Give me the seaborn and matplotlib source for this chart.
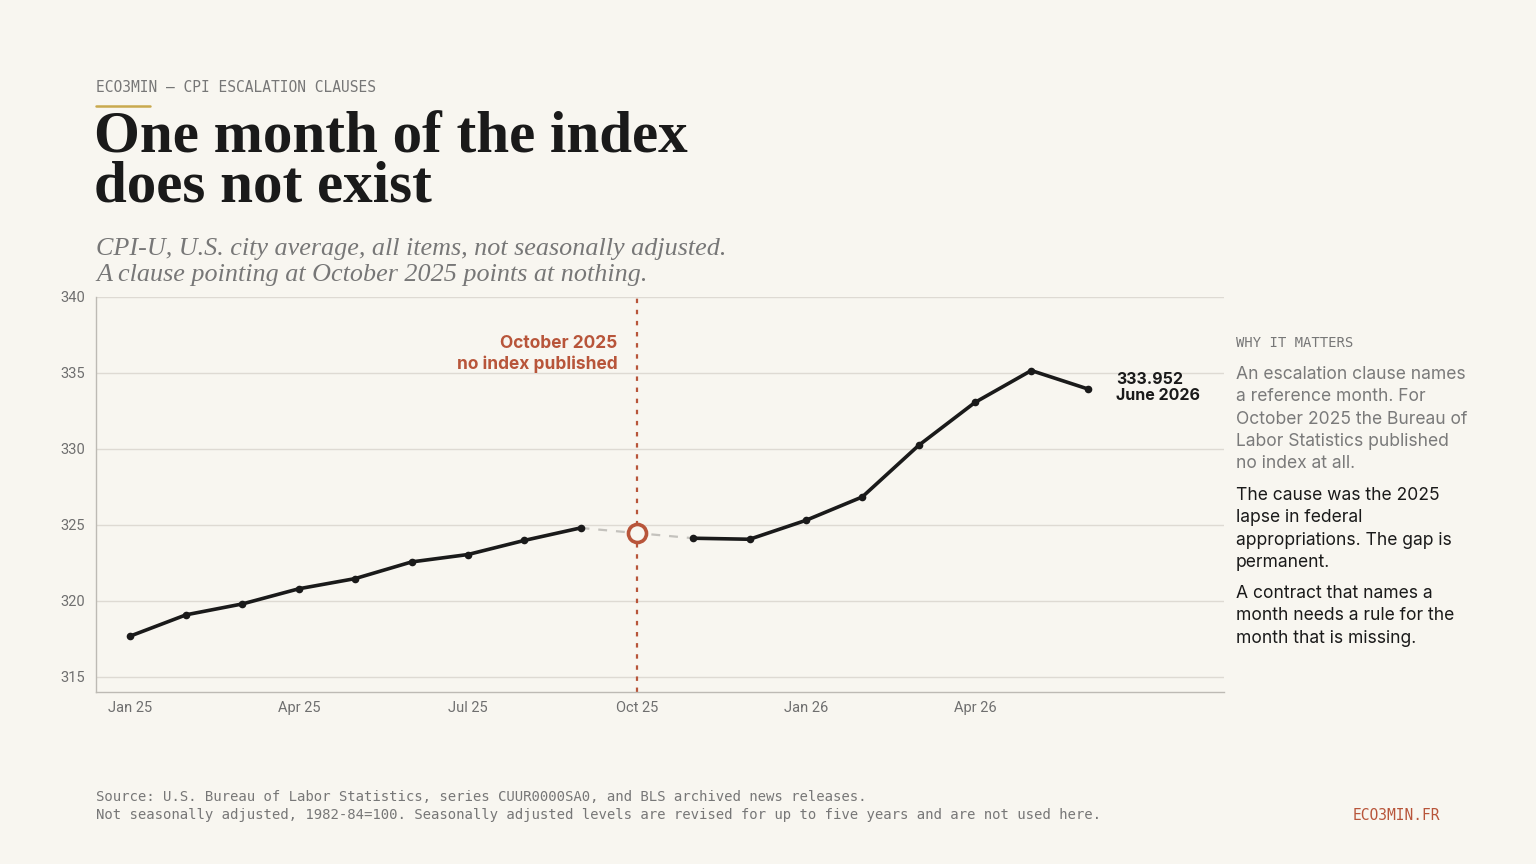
import matplotlib
matplotlib.use("Agg")
import matplotlib.pyplot as plt
import seaborn as sns
import pandas as pd
import numpy as np

# ---- data ----
months = ["Jan 25", "Feb 25", "Mar 25", "Apr 25", "May 25", "Jun 25", "Jul 25", "Aug 25", "Sep 25",
          "Oct 25", "Nov 25", "Dec 25", "Jan 26", "Feb 26", "Mar 26", "Apr 26", "May 26", "Jun 26"]
cpi = [317.671, 319.082, 319.799, 320.795, 321.465, 322.561, 323.048, 323.976, 324.800,
       None, 324.122, 324.054, 325.300, 326.840, 330.230, 333.060, 335.160, 333.952]
gap_month = "Oct 25"
gap_marker_value = 324.46
tick_labels = ["Jan 25", "Apr 25", "Jul 25", "Oct 25", "Jan 26", "Apr 26"]
y_ticks = [315, 320, 325, 330, 335, 340]

BG = "#f8f6f0"
INK = "#1a1a1a"
RUST = "#b8553a"
GREY = "#777777"
GOLD = "#c9a94e"

sns.set_theme(style="white")
plt.rcParams["font.family"] = ["Inter", "DejaVu Sans"]

df = pd.DataFrame({"month": months, "cpi": cpi})
df["idx"] = np.arange(len(df))
gi = months.index(gap_month)
before = df[df["idx"] < gi]
after = df[df["idx"] > gi]

fig = plt.figure(figsize=(15.36, 8.64), dpi=100, facecolor=BG)
ax = fig.add_axes([96/1536, 1 - 692/864, (1224-96)/1536, (692-297)/864])
ax.set_facecolor(BG)

# gridlines
for yv in y_ticks:
    ax.axhline(yv, color="#dedad3", lw=1, zorder=0)

# gap bridge
bridge_x = [gi - 1, gi, gi + 1]
bridge_y = [cpi[gi - 1], gap_marker_value, cpi[gi + 1]]
ax.plot(bridge_x, bridge_y, color="#c4c2bd", lw=1.6, ls=(0, (4, 4)), zorder=2)

for seg in (before, after):
    sns.lineplot(data=seg, x="idx", y="cpi", ax=ax, color=INK, lw=2.6, marker="o",
                 markersize=5.5, markeredgewidth=0, zorder=3)

ax.axvline(gi, color=RUST, lw=1.6, ls=(0, (2, 3)), zorder=2)
ax.plot([gi], [gap_marker_value], marker="o", ms=13, mfc=BG, mec=RUST, mew=2.6, zorder=5)

ax.text(gi - 0.35, 336.25, "October 2025\nno index published", ha="right", va="center",
        color=RUST, fontsize=12.5, fontweight="bold", linespacing=1.2)
ax.text(len(months) - 1 + 0.5, 334.05, f"{cpi[-1]:.3f}\nJune 2026", ha="left", va="center",
        color=INK, fontsize=11.5, fontweight="bold", linespacing=1.12)

ax.set_xlim(-0.6, 19.42)
ax.set_ylim(314, 340)
ax.set_xticks([months.index(t) for t in tick_labels])
ax.set_xticklabels(tick_labels)
ax.set_yticks(y_ticks)
ax.set_xlabel("")
ax.set_ylabel("")
for s in ("top", "right"):
    ax.spines[s].set_visible(False)
for s in ("left", "bottom"):
    ax.spines[s].set_color("#bdbab4")
    ax.spines[s].set_linewidth(1)
ax.tick_params(axis="both", colors="#bdbab4", labelcolor="#6f6f6f", labelsize=10.5, length=4, width=0.8)
ax.tick_params(axis="y", pad=4)
ax.tick_params(axis="x", length=5, pad=1.5)
for lab in ax.get_xticklabels() + ax.get_yticklabels():
    lab.set_family(["Roboto", "DejaVu Sans"])

# ---- header ----
fig.text(96/1536, 1 - 87/864, "ECO3MIN — CPI ESCALATION CLAUSES", family=["DejaVu Sans Mono"],
         fontsize=10.5, color=GREY, va="center", ha="left")
fig.add_artist(plt.Line2D([96/1536, 150/1536], [1 - 106/864, 1 - 106/864], color=GOLD, lw=1.8))
fig.text(94/1536, 1 - 163/864, "One month of the index\ndoes not exist", family=["Liberation Serif", "DejaVu Serif"],
         fontsize=42.5, fontweight="bold", color=INK, va="center", ha="left", linespacing=0.88)
fig.text(96/1536, 1 - 262/864, "CPI-U, U.S. city average, all items, not seasonally adjusted.\nA clause pointing at October 2025 points at nothing.",
         family=["Liberation Serif", "DejaVu Serif"], style="italic", fontsize=18.8, color=GREY,
         va="center", ha="left", linespacing=1.2)

# ---- side panel ----
px = 1236/1536
fig.text(px, 1 - 343/864, "WHY IT MATTERS", family=["DejaVu Sans Mono"], fontsize=10, color=GREY, va="center")
fig.text(px, 1 - 366/864, "An escalation clause names\na reference month. For\nOctober 2025 the Bureau of\nLabor Statistics published\nno index at all.",
         fontsize=12.6, color="#7a7a7a", va="top", linespacing=1.41)
fig.text(px, 1 - 487/864, "The cause was the 2025\nlapse in federal\nappropriations. The gap is\npermanent.",
         fontsize=12.6, color=INK, va="top", linespacing=1.41)
fig.text(px, 1 - 585/864, "A contract that names a\nmonth needs a rule for the\nmonth that is missing.",
         fontsize=12.6, color=INK, va="top", linespacing=1.41)

# ---- footer ----
fig.text(96/1536, 1 - 806/864, "Source: U.S. Bureau of Labor Statistics, series CUUR0000SA0, and BLS archived news releases.\nNot seasonally adjusted, 1982-84=100. Seasonally adjusted levels are revised for up to five years and are not used here.",
         family=["DejaVu Sans Mono"], fontsize=10.1, color=GREY, va="center", ha="left", linespacing=1.45)
fig.text(1440/1536, 1 - 815/864, "ECO3MIN.FR", family=["DejaVu Sans Mono"], fontsize=10.5, color=RUST, va="center", ha="right")

fig.savefig("out.png", dpi=100, facecolor=BG)
